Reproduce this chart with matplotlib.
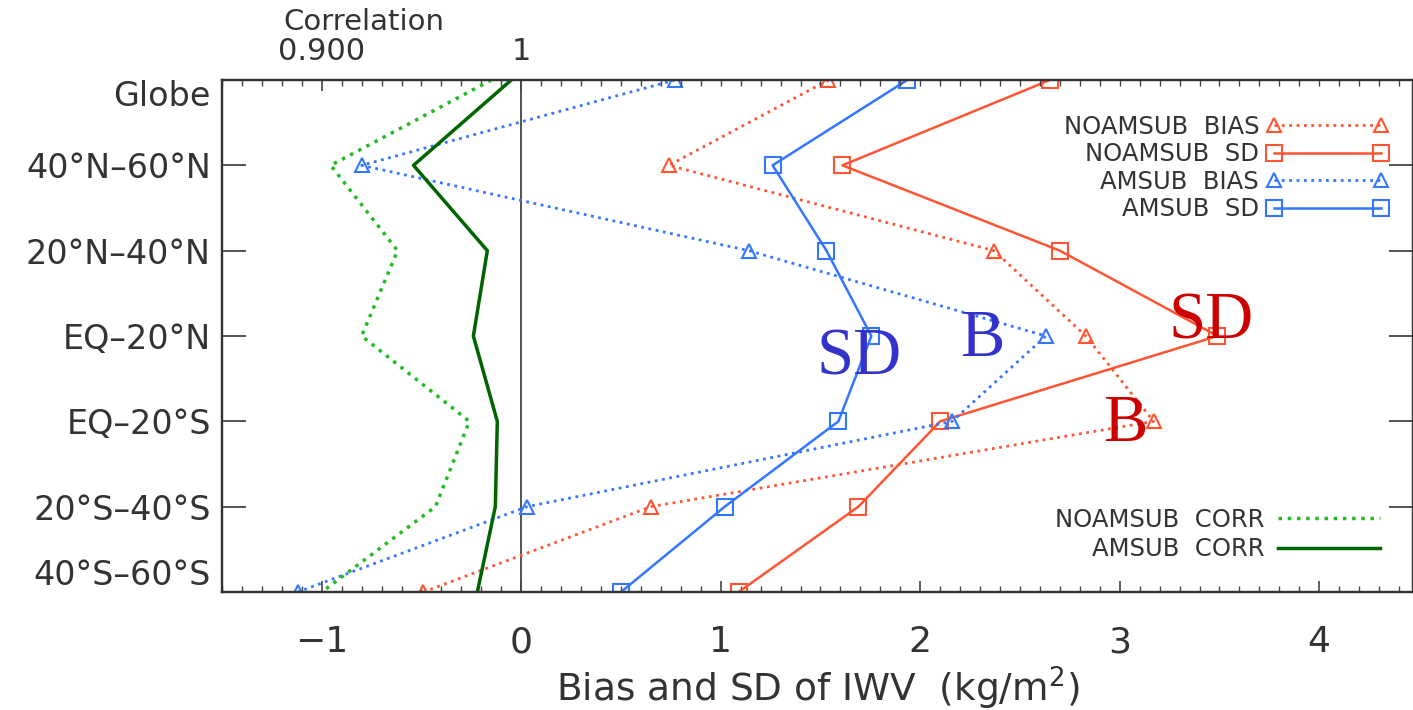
import numpy as np
import matplotlib
matplotlib.use("Agg")
import matplotlib.pyplot as plt

# latitude bands, top to bottom
bands = ["Globe", "40°N–60°N", "20°N–40°N", "EQ–20°N", "EQ–20°S", "20°S–40°S", "40°S–60°S"]

# bias / SD of IWV (kg/m2)
noamsub_bias = [1.54, 0.74, 2.37, 2.83, 3.17, 0.65, -0.49]
noamsub_sd = [2.65, 1.61, 2.70, 3.49, 2.10, 1.69, 1.09]
amsub_bias = [0.77, -0.80, 1.14, 2.63, 2.16, 0.03, -1.12]
amsub_sd = [1.935, 1.26, 1.53, 1.755, 1.59, 1.02, 0.50]

# correlation (top axis)
noamsub_corr = [0.985, 0.9045, 0.938, 0.920, 0.974, 0.957, 0.900]
amsub_corr = [0.995, 0.946, 0.983, 0.976, 0.988, 0.987, 0.978]

red = "#ff5533"
blue = "#3377ff"
lgreen = "#22bb22"
dgreen = "#006400"
tcol = "#333333"

yy = np.arange(len(bands))

fig = plt.figure(figsize=(14.13, 7.10), dpi=100)
ax = fig.add_axes([222/1413, 1-592/710, 1-222/1413, (592-80)/710])

xlo, xhi = -1.5, 4.47
ax.set_xlim(xlo, xhi)
ax.set_ylim(6, 0)

ax.axvline(0, color="#444444", lw=1.3, zorder=1)

h1, = ax.plot(noamsub_bias, yy, ls=":", color=red, lw=2, marker="^", ms=10,
              mfc="none", mec=red, mew=1.5, label="NOAMSUB  BIAS")
h2, = ax.plot(noamsub_sd, yy, ls="-", color=red, lw=1.8, marker="s", ms=11,
              mfc="none", mec=red, mew=1.5, label="NOAMSUB  SD")
h3, = ax.plot(amsub_bias, yy, ls=":", color=blue, lw=2, marker="^", ms=10,
              mfc="none", mec=blue, mew=1.5, label="AMSUB  BIAS")
h4, = ax.plot(amsub_sd, yy, ls="-", color=blue, lw=1.8, marker="s", ms=11,
              mfc="none", mec=blue, mew=1.5, label="AMSUB  SD")

# correlation on the top axis
ax2 = ax.twiny()
ax2.set_xlim(1 + xlo/10, 1 + xhi/10)
h5, = ax2.plot(noamsub_corr, yy, ls=":", color=lgreen, lw=2.5, label="NOAMSUB  CORR")
h6, = ax2.plot(amsub_corr, yy, ls="-", color=dgreen, lw=2.5, label="AMSUB  CORR")

# axes styling
ax.set_yticks(yy)
ax.set_yticklabels(bands, fontsize=24, color=tcol)
ax.get_yticklabels()[0].set_va("top")
ax.get_yticklabels()[-1].set_va("bottom")
ax.tick_params(axis="y", direction="in", length=17, width=1.3, left=True, right=True,
               pad=8, color="#444444")
ax.set_xticks(np.arange(-1, 5, 1))
ax.set_xticklabels(["−1", "0", "1", "2", "3", "4"], fontsize=26, color=tcol)
ax.set_xticks(np.arange(-1.5, 4.5, 0.1), minor=True)
ax.tick_params(axis="x", which="major", direction="in", length=8, width=1.2, pad=24,
               color="#444444", top=False)
ax.tick_params(axis="x", which="minor", direction="in", length=4, width=1, color="#444444", top=False)
ax.set_xlabel("Bias and SD of IWV  (kg/m$^2$)", fontsize=27, color=tcol, labelpad=4)

ax2.set_xticks([0.90, 1.0])
ax2.set_xticklabels(["0.900", "1"], fontsize=22, color=tcol)
ax2.set_xticks(np.arange(0.85, 1.45, 0.01), minor=True)
ax2.tick_params(axis="x", which="major", direction="in", length=8, width=1.2, pad=10, color="#444444")
ax2.tick_params(axis="x", which="minor", direction="in", length=4, width=1, color="#444444")
ax2.set_xlabel("Correlation", fontsize=21, color=tcol)
ax2.xaxis.set_label_coords((364-222)/(1413-222), 1+(80-22)/512, transform=ax2.transAxes)
ax2.xaxis.label.set_va("center")

for a in (ax, ax2):
    for s in a.spines.values():
        s.set_color("#333333")
        s.set_linewidth(1.6)

# legends
leg1 = ax2.legend(handles=[h1, h2, h3, h4], loc="upper right", numpoints=2, markerfirst=False,
                  frameon=False, fontsize=17.5, handlelength=5.0, handletextpad=0.3,
                  labelspacing=0.14, borderpad=0, borderaxespad=0,
                  bbox_to_anchor=(1388/1413, 1-115/710), bbox_transform=fig.transFigure)
for t in leg1.get_texts():
    t.set_color(tcol)
ax2.add_artist(leg1)
leg2 = ax2.legend(handles=[h5, h6], loc="upper right", markerfirst=False,
                  frameon=False, fontsize=17.5, handlelength=4.2, handletextpad=0.55,
                  labelspacing=0.22, borderpad=0, borderaxespad=0,
                  bbox_to_anchor=(1380/1413, 1-508/710), bbox_transform=fig.transFigure)
for t in leg2.get_texts():
    t.set_color(tcol)

# in-plot labels
sfont = dict(family="Liberation Serif", fontsize=48, ha="center", va="baseline")
ax.text(1.694, 3.45, "SD", color="#3333cc", **sfont)
ax.text(2.31, 3.24, "B", color="#3333cc", **sfont)
ax.text(3.46, 3.03, "SD", color="#cc0000", **sfont)
ax.text(3.03, 4.225, "B", color="#cc0000", **sfont)

fig.savefig("out.png", dpi=100)
